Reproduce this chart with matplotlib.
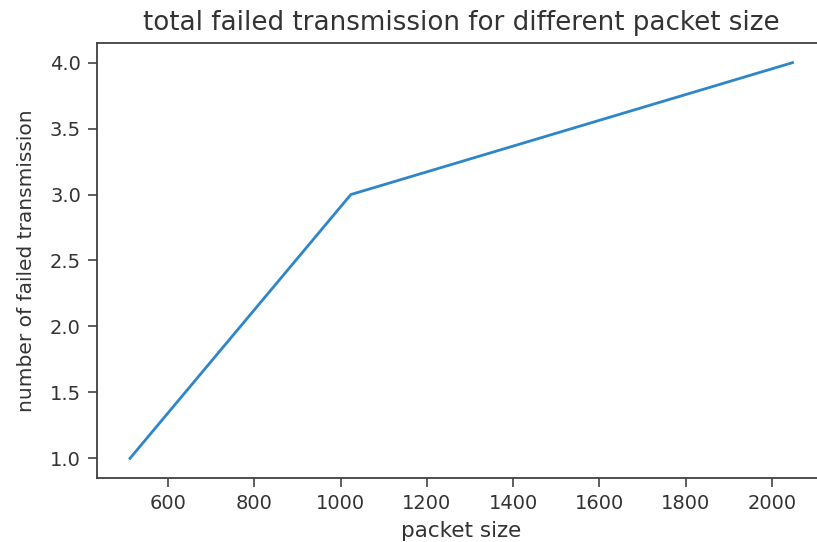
import matplotlib
matplotlib.use("Agg")
import matplotlib.pyplot as plt

packet_sizes = [512, 1024, 2048]
failed_transmissions = [1, 3, 4]

text_color = "#333333"
plt.rcParams["text.color"] = text_color
plt.rcParams["axes.labelcolor"] = text_color
plt.rcParams["xtick.color"] = text_color
plt.rcParams["ytick.color"] = text_color
plt.rcParams["axes.edgecolor"] = "#404040"

fig = plt.figure(figsize=(8.17, 5.42), dpi=100)
# the axes run slightly past the right edge of the canvas
ax = fig.add_axes([0.1186, 0.1179, 0.892, 0.803])
ax.plot(packet_sizes, failed_transmissions, color="#2e86c8", linewidth=2.0)

ax.set_title("total failed transmission for different packet size", fontsize=18.8, pad=9)
ax.set_xlabel("packet size", fontsize=15.5, labelpad=6)
ax.set_ylabel("number of failed transmission", fontsize=14.5, labelpad=10)
ax.tick_params(labelsize=14, length=6.5, width=1.1, pad=5)
for s in ax.spines.values():
    s.set_linewidth(1.3)

fig.savefig("out.png", dpi=100)
